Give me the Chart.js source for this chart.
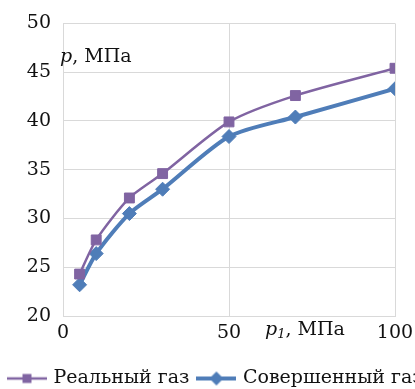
<!DOCTYPE html>
<html>
<head>
<meta charset="utf-8">
<script src="https://cdn.jsdelivr.net/npm/chart.js@4/dist/chart.umd.min.js"></script>
<style>
  html, body { margin: 0; padding: 0; background: #fff; overflow: hidden; }
  #wrap { position: relative; width: 560px; height: 398px; }
</style>
</head>
<body>
<div id="wrap"><canvas id="chart"></canvas></div>
<script>
// p1, MPa
const pressureIn = [5, 10, 20, 30, 50, 70, 100];
// p, MPa
const realGas = [24.3, 27.8, 32.1, 34.6, 39.9, 42.6, 45.4];
const idealGas = [23.2, 26.4, 30.5, 33.0, 38.4, 40.4, 43.3];
const seriesNames = ["Реальный газ", "Совершенный газ"];
const xTicks = [0, 50, 100];
const yTicks = [20, 25, 30, 35, 40, 45, 50];

const PURPLE = "#8064A2";
const BLUE = "#4F7DB8";
const GRID = "#D9D9D9";
const FONT = "'DejaVu Serif', 'Liberation Serif', serif";

// legend icon: a short line with the marker in the middle
function legendIcon(color, lineW, diamond) {
  const c = document.createElement("canvas");
  c.width = 40; c.height = 20;
  const g = c.getContext("2d");
  g.strokeStyle = color; g.fillStyle = color; g.lineWidth = lineW;
  g.beginPath(); g.moveTo(0, 10); g.lineTo(40, 10); g.stroke();
  g.beginPath();
  if (diamond) {
    g.moveTo(20, 3); g.lineTo(27, 10); g.lineTo(20, 17); g.lineTo(13, 10);
  } else {
    g.rect(15.5, 5.5, 9, 9);
  }
  g.closePath(); g.fill();
  return c;
}

const toPoints = ys => pressureIn.map((x, i) => ({ x: x, y: ys[i] }));

const axisTitles = {
  id: "axisTitles",
  afterDraw(chart) {
    const { ctx, chartArea } = chart;
    ctx.save();
    ctx.fillStyle = "#111";
    ctx.textBaseline = "alphabetic";
    ctx.textAlign = "left";
    // y axis title inside the plot
    let x = chartArea.left - 3, y = chartArea.top + 39;
    ctx.font = "italic 19px " + FONT;
    ctx.fillText("p", x, y);
    x += ctx.measureText("p").width;
    ctx.font = "19px " + FONT;
    ctx.fillText(", МПа", x, y);
    // x axis title next to the ticks
    x = 265; y = chartArea.bottom + 19;
    ctx.font = "italic 19px " + FONT;
    ctx.fillText("p", x, y);
    x += ctx.measureText("p").width;
    ctx.font = "italic 13px " + FONT;
    ctx.fillText("1", x, y + 3);
    x += ctx.measureText("1").width;
    ctx.font = "19px " + FONT;
    ctx.fillText(", МПа", x, y);
    ctx.restore();
  }
};

new Chart(document.getElementById("chart"), {
  type: "line",
  data: {
    datasets: [
      {
        label: seriesNames[0],
        data: toPoints(realGas),
        borderColor: PURPLE,
        backgroundColor: PURPLE,
        borderWidth: 2.5,
        pointStyle: "rect",
        pointRadius: 7,
        pointBorderWidth: 1,
        tension: 0.25
      },
      {
        label: seriesNames[1],
        data: toPoints(idealGas),
        borderColor: BLUE,
        backgroundColor: BLUE,
        borderWidth: 4,
        pointStyle: "rectRot",
        pointRadius: 7,
        pointBorderWidth: 1,
        tension: 0.25
      }
    ]
  },
  options: {
    responsive: true,
    maintainAspectRatio: false,
    animation: false,
    layout: { padding: { top: 20, right: 0, left: 0, bottom: 0 } },
    plugins: {
      tooltip: { enabled: false },
      legend: {
        position: "bottom",
        align: "start",
        labels: {
          usePointStyle: true,
          pointStyleWidth: 34,
          padding: 10,
          color: "#111",
          font: { family: FONT, size: 19 },
          generateLabels(chart) {
            return chart.data.datasets.map((ds, i) => ({
              text: ds.label,
              fontColor: "#111",
              pointStyle: legendIcon(ds.borderColor, ds.borderWidth, i === 1),
              lineWidth: 0,
              strokeStyle: "transparent",
              fillStyle: ds.borderColor,
              datasetIndex: i
            }));
          }
        }
      }
    },
    scales: {
      x: {
        type: "linear",
        min: xTicks[0],
        max: xTicks[xTicks.length - 1],
        ticks: {
          stepSize: xTicks[1] - xTicks[0],
          color: "#111",
          padding: 6,
          font: { family: FONT, size: 19 }
        },
        grid: { color: GRID, drawTicks: false },
        border: { color: GRID },
        afterFit(scale) { scale.height = 43; }
      },
      y: {
        min: yTicks[0],
        max: yTicks[yTicks.length - 1],
        ticks: {
          stepSize: yTicks[1] - yTicks[0],
          color: "#111",
          padding: 12,
          font: { family: FONT, size: 19 }
        },
        grid: { color: GRID, drawTicks: false },
        border: { color: GRID },
        afterFit(scale) { scale.width = 63; }
      },
      // empty space on the right, outside the visible window
      spacer: {
        position: "right",
        min: 0,
        max: 1,
        ticks: { display: false },
        grid: { display: false, drawTicks: false },
        border: { display: false },
        afterFit(scale) { scale.width = 165; }
      }
    }
  },
  plugins: [axisTitles]
});
</script>
</body>
</html>
